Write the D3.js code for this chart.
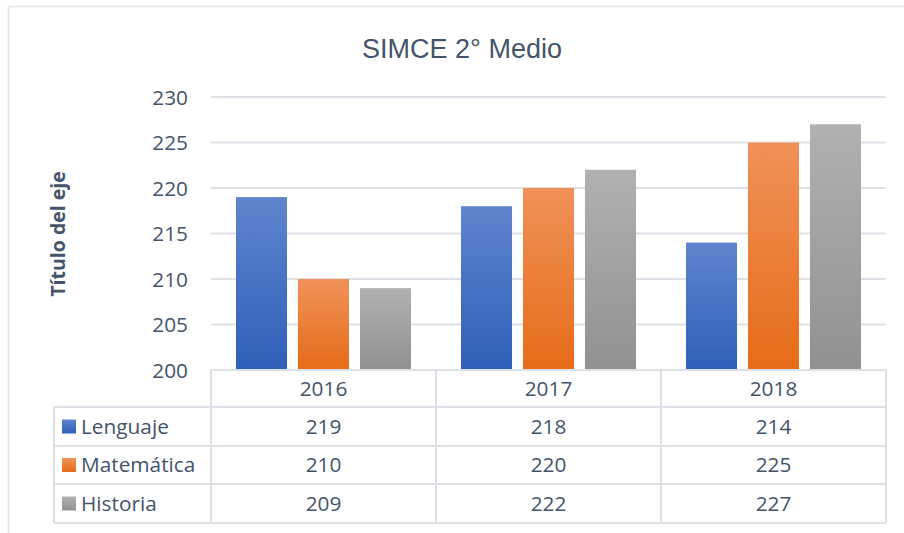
<!DOCTYPE html>
<html>
<head>
<meta charset="utf-8">
<script src="https://cdn.jsdelivr.net/npm/d3@7"></script>
<style>
  html, body { margin: 0; padding: 0; background: #fff; }
  svg { display: block; }
</style>
</head>
<body>
<svg id="chart" width="904" height="533"></svg>
<script>
const categories = ["2016", "2017", "2018"];
const seriesNames = ["Lenguaje", "Matemática", "Historia"];
const lenguaje = [219, 218, 214];
const matematica = [210, 220, 225];
const historia = [209, 222, 227];
const yTicks = [200, 205, 210, 215, 220, 225, 230];
const title = "SIMCE 2° Medio";
const yTitle = "Título del eje";

const seriesValues = [lenguaje, matematica, historia];
const gradients = [
  ["#5f85cd", "#2e5fb8"],
  ["#f09159", "#e66c18"],
  ["#b1b1b1", "#919191"]
];

const textColor = "#44546a";
const lineColor = "#dde1e7";
const font = "'Open Sans', Lato, sans-serif";
const fs = 20.8;

const svg = d3.select("#chart");
const defs = svg.append("defs");
gradients.forEach((g, i) => {
  const lg = defs.append("linearGradient").attr("id", "grad" + i)
    .attr("x1", 0).attr("y1", 0).attr("x2", 0).attr("y2", 1);
  lg.append("stop").attr("offset", "0%").attr("stop-color", g[0]);
  lg.append("stop").attr("offset", "100%").attr("stop-color", g[1]);
});

// outer chart border
svg.append("path").attr("d", "M8.5,533 L8.5,6.5 L904,6.5")
  .attr("fill", "none").attr("stroke", "#e0e3e8").attr("stroke-width", 1.5);

const plot = { left: 211, right: 886, top: 97, bottom: 370 };

const y = d3.scaleLinear().domain([200, 230]).range([plot.bottom, plot.top]);
const x0 = d3.scaleBand().domain(categories).range([plot.left, plot.right])
  .paddingInner(50 / 225).paddingOuter(25 / 225);
const x1 = d3.scaleBand().domain(seriesNames).range([0, x0.bandwidth()])
  .paddingInner(0.177).paddingOuter(0);

// title
svg.append("text").attr("x", 462).attr("y", 58).attr("text-anchor", "middle")
  .attr("font-family", "'Liberation Sans', Arial, sans-serif").attr("font-size", 27)
  .attr("fill", textColor).text(title);

// gridlines
svg.append("g").selectAll("line").data(yTicks.filter(t => t !== 200)).join("line")
  .attr("x1", plot.left).attr("x2", plot.right)
  .attr("y1", d => y(d)).attr("y2", d => y(d))
  .attr("stroke", lineColor).attr("stroke-width", 2);

// y axis
const yAxis = d3.axisLeft(y).tickValues(yTicks).tickSize(0).tickPadding(0);
const yg = svg.append("g").attr("transform", "translate(188,0)").call(yAxis);
yg.select(".domain").remove();
yg.selectAll("text").attr("font-family", font).attr("font-size", fs)
  .attr("fill", textColor).attr("dy", "0.35em");

// y title
svg.append("text").attr("transform", "translate(65,234) rotate(-90)")
  .attr("text-anchor", "middle").attr("font-family", font).attr("font-weight", "bold")
  .attr("font-size", 19.5).attr("fill", textColor).text(yTitle);

// bars
const groups = svg.append("g").selectAll("g").data(categories).join("g")
  .attr("transform", d => `translate(${x0(d)},0)`);
groups.selectAll("rect").data((d, ci) => seriesNames.map((s, si) => ({ s, si, v: seriesValues[si][ci] })))
  .join("rect")
  .attr("x", d => x1(d.s)).attr("width", x1.bandwidth())
  .attr("y", d => y(d.v)).attr("height", d => y(200) - y(d.v))
  .attr("fill", d => `url(#grad${d.si})`);

// data table
const rowTops = [370, 407, 446, 484, 523];
const tableLeft = 54;
const colEdges = [plot.left].concat(categories.map(c => x0(c) + x0.bandwidth() + x0.step() * x0.paddingOuter()));
const tg = svg.append("g").attr("stroke", lineColor).attr("stroke-width", 2).attr("fill", "none");
tg.append("line").attr("x1", plot.left).attr("x2", plot.right).attr("y1", rowTops[0]).attr("y2", rowTops[0]);
rowTops.slice(1).forEach(r => {
  tg.append("line").attr("x1", tableLeft).attr("x2", plot.right).attr("y1", r).attr("y2", r);
});
tg.append("line").attr("x1", tableLeft).attr("x2", tableLeft).attr("y1", rowTops[1]).attr("y2", rowTops[4]);
colEdges.forEach(cx => {
  tg.append("line").attr("x1", cx).attr("x2", cx).attr("y1", rowTops[0]).attr("y2", rowTops[4]);
});

// header text
svg.append("g").selectAll("text").data(categories).join("text")
  .attr("x", d => x0(d) + x0.bandwidth() / 2).attr("y", (rowTops[0] + rowTops[1]) / 2)
  .attr("dy", "0.35em").attr("text-anchor", "middle")
  .attr("font-family", font).attr("font-size", fs).attr("fill", textColor).text(d => d);

// rows
seriesNames.forEach((s, si) => {
  const cy = (rowTops[si + 1] + rowTops[si + 2]) / 2;
  svg.append("rect").attr("x", 62).attr("y", cy - 7).attr("width", 14).attr("height", 14)
    .attr("fill", `url(#grad${si})`);
  svg.append("text").attr("x", 81).attr("y", cy).attr("dy", "0.35em")
    .attr("font-family", font).attr("font-size", fs).attr("fill", textColor).text(s);
  categories.forEach((c, ci) => {
    svg.append("text").attr("x", x0(c) + x0.bandwidth() / 2).attr("y", cy).attr("dy", "0.35em")
      .attr("text-anchor", "middle").attr("font-family", font).attr("font-size", fs)
      .attr("fill", textColor).text(seriesValues[si][ci]);
  });
});
</script>
</body>
</html>
